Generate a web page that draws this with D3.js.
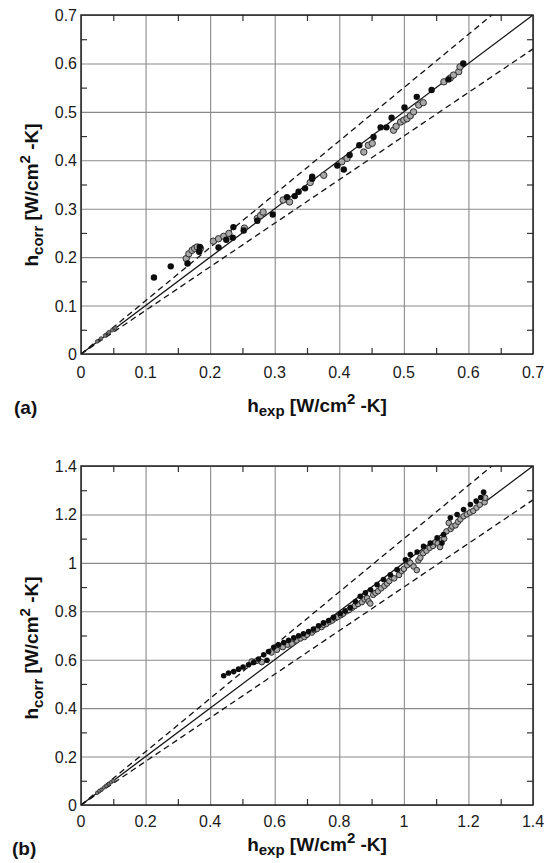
<!DOCTYPE html>
<html>
<head>
<meta charset="utf-8">
<script src="https://cdn.jsdelivr.net/npm/d3@7"></script>
<style>
  body { margin: 0; background: #fff; }
  svg { display: block; }
  text { font-family: "Liberation Sans", Arial, sans-serif; }
</style>
</head>
<body>
<svg id="Graph"></svg>
<script>
const w = 546;
const h = 863;

// panel (a) data [h_exp, h_corr]
const filledA = [
  [0.113, 0.158], [0.139, 0.181], [0.165, 0.187], [0.183, 0.211], [0.184, 0.221],
  [0.213, 0.220], [0.225, 0.236], [0.235, 0.240], [0.236, 0.262], [0.252, 0.255],
  [0.273, 0.275], [0.297, 0.288], [0.319, 0.324], [0.331, 0.326], [0.337, 0.335],
  [0.347, 0.342], [0.358, 0.362], [0.358, 0.366], [0.397, 0.389], [0.407, 0.381],
  [0.416, 0.411], [0.431, 0.431], [0.453, 0.448], [0.464, 0.468], [0.473, 0.468],
  [0.481, 0.488], [0.501, 0.509], [0.520, 0.531], [0.543, 0.545], [0.569, 0.567],
  [0.592, 0.600]
];
const openA = [
  [0.163, 0.197], [0.167, 0.207], [0.172, 0.214], [0.176, 0.218], [0.180, 0.221],
  [0.185, 0.218], [0.205, 0.233], [0.213, 0.238], [0.221, 0.243], [0.229, 0.249],
  [0.253, 0.260], [0.273, 0.280], [0.278, 0.286], [0.282, 0.293], [0.313, 0.318],
  [0.323, 0.314], [0.355, 0.354], [0.376, 0.369], [0.404, 0.397], [0.412, 0.404],
  [0.438, 0.417], [0.445, 0.431], [0.451, 0.435], [0.484, 0.462], [0.488, 0.470],
  [0.495, 0.479], [0.500, 0.483], [0.505, 0.486], [0.510, 0.492], [0.515, 0.500],
  [0.523, 0.514], [0.530, 0.519], [0.562, 0.562], [0.572, 0.570], [0.577, 0.576],
  [0.585, 0.583], [0.587, 0.593]
];
const nearA = [
  [0.025, 0.026], [0.031, 0.032], [0.037, 0.038], [0.043, 0.045], [0.048, 0.049],
  [0.053, 0.054]
];

// panel (b) data [h_exp, h_corr]
const filledB = [
  [0.442, 0.534], [0.457, 0.545], [0.473, 0.551], [0.488, 0.561], [0.502, 0.570],
  [0.519, 0.579], [0.535, 0.589], [0.550, 0.603], [0.566, 0.620], [0.576, 0.598],
  [0.581, 0.634], [0.597, 0.651], [0.612, 0.662], [0.628, 0.671], [0.643, 0.680],
  [0.659, 0.690], [0.674, 0.699], [0.689, 0.707], [0.705, 0.716], [0.720, 0.727],
  [0.736, 0.740], [0.751, 0.752], [0.767, 0.762], [0.782, 0.775], [0.803, 0.790],
  [0.818, 0.801], [0.834, 0.815], [0.850, 0.840], [0.865, 0.862], [0.881, 0.876],
  [0.897, 0.889], [0.917, 0.910], [0.937, 0.931], [0.958, 0.951], [0.979, 0.972],
  [1.005, 1.013], [1.020, 1.034], [1.041, 1.045], [1.061, 1.068], [1.082, 1.082],
  [1.103, 1.103], [1.118, 1.082], [1.123, 1.117], [1.144, 1.186], [1.165, 1.200],
  [1.185, 1.220], [1.206, 1.241], [1.224, 1.255], [1.238, 1.270], [1.247, 1.292]
];
const openB = [
  [0.529, 0.593], [0.545, 0.596], [0.560, 0.590], [0.590, 0.630], [0.607, 0.641],
  [0.625, 0.652], [0.640, 0.662], [0.653, 0.666], [0.668, 0.680], [0.680, 0.688],
  [0.692, 0.694], [0.700, 0.703], [0.715, 0.712], [0.723, 0.722], [0.731, 0.727],
  [0.745, 0.735], [0.752, 0.744], [0.760, 0.748], [0.770, 0.757], [0.778, 0.762],
  [0.787, 0.771], [0.795, 0.776], [0.805, 0.784], [0.812, 0.790], [0.822, 0.800],
  [0.830, 0.805], [0.840, 0.815], [0.848, 0.822], [0.858, 0.830], [0.870, 0.838],
  [0.878, 0.850], [0.886, 0.855], [0.891, 0.841], [0.896, 0.832], [0.905, 0.868],
  [0.912, 0.876], [0.920, 0.883], [0.930, 0.895], [0.940, 0.905], [0.948, 0.915],
  [0.955, 0.925], [0.962, 0.940], [0.970, 0.936], [0.985, 0.950], [0.993, 0.966],
  [1.000, 0.975], [1.010, 0.990], [1.015, 1.005], [1.020, 1.000], [1.030, 0.985],
  [1.040, 0.970], [1.045, 1.010], [1.051, 1.021], [1.060, 1.040], [1.070, 1.050],
  [1.080, 1.062], [1.090, 1.070], [1.098, 1.085], [1.105, 1.080], [1.112, 1.065],
  [1.118, 1.095], [1.125, 1.100], [1.132, 1.130], [1.139, 1.165], [1.145, 1.140],
  [1.150, 1.150], [1.160, 1.155], [1.168, 1.170], [1.175, 1.180], [1.185, 1.192],
  [1.195, 1.200], [1.205, 1.208], [1.215, 1.215], [1.225, 1.228], [1.235, 1.240],
  [1.250, 1.250], [1.252, 1.269]
];
const nearB = [
  [0.050, 0.050], [0.057, 0.058], [0.064, 0.064], [0.071, 0.072], [0.078, 0.079],
  [0.086, 0.087], [0.093, 0.094], [0.100, 0.100]
];

// ticks
const ticksA = [0, 0.1, 0.2, 0.3, 0.4, 0.5, 0.6, 0.7];
const minorA = [0.05, 0.15, 0.25, 0.35, 0.45, 0.55, 0.65];
const ticksB = [0, 0.2, 0.4, 0.6, 0.8, 1, 1.2, 1.4];
const minorB = [0.1, 0.3, 0.5, 0.7, 0.9, 1.1, 1.3];

// y = x and +/-10% bands
const bands = [
  { k: 1.0, dash: null },
  { k: 1.1, dash: "6,4" },
  { k: 0.9, dash: "6,4" }
];

const svg = d3.select("#Graph")
  .attr("width", w)
  .attr("height", h);

function drawPanel(p) {
  const xScale = d3.scaleLinear().domain([0, p.max]).range([p.left, p.right]);
  const yScale = d3.scaleLinear().domain([0, p.max]).range([p.bottom, p.top]);
  const pw = p.right - p.left;
  const ph = p.bottom - p.top;
  const g = svg.append("g");
  const fmt = d3.format("~g");

  // grid
  g.append("g")
    .attr("transform", "translate(0," + p.bottom + ")")
    .call(d3.axisBottom(xScale).tickValues(p.ticks).tickSize(-ph).tickFormat(""))
    .call(s => s.select(".domain").remove())
    .call(s => s.selectAll("line").attr("stroke", "#8a8a8a").attr("stroke-width", 1.1));
  g.append("g")
    .attr("transform", "translate(" + p.left + ",0)")
    .call(d3.axisLeft(yScale).tickValues(p.ticks).tickSize(-pw).tickFormat(""))
    .call(s => s.select(".domain").remove())
    .call(s => s.selectAll("line").attr("stroke", "#8a8a8a").attr("stroke-width", 1.1));

  // minor inward ticks on all sides
  const tk = 6;
  const minorG = g.append("g");
  minorG.append("g").attr("transform", "translate(0," + p.bottom + ")")
    .call(d3.axisBottom(xScale).tickValues(p.minor).tickSize(-tk).tickFormat(""));
  minorG.append("g").attr("transform", "translate(0," + p.top + ")")
    .call(d3.axisTop(xScale).tickValues(p.minor).tickSize(-tk).tickFormat(""));
  minorG.append("g").attr("transform", "translate(" + p.left + ",0)")
    .call(d3.axisLeft(yScale).tickValues(p.minor).tickSize(-tk).tickFormat(""));
  minorG.append("g").attr("transform", "translate(" + p.right + ",0)")
    .call(d3.axisRight(yScale).tickValues(p.minor).tickSize(-tk).tickFormat(""));
  minorG.selectAll(".domain").remove();
  minorG.selectAll(".tick line").attr("stroke", "#333").attr("stroke-width", 1.2);

  // tick labels
  g.selectAll(".xlab")
    .data(p.ticks)
    .enter()
    .append("text")
    .attr("x", d => xScale(d))
    .attr("y", p.bottom + p.xLabDy)
    .attr("text-anchor", "middle")
    .attr("font-size", "16px")
    .attr("fill", "#1a1a1a")
    .text(d => fmt(d));
  g.selectAll(".ylab")
    .data(p.ticks)
    .enter()
    .append("text")
    .attr("x", p.left - 4)
    .attr("y", d => yScale(d) + 6)
    .attr("text-anchor", "end")
    .attr("font-size", "16px")
    .attr("fill", "#1a1a1a")
    .text(d => fmt(d));

  // lines, clipped to the plot
  svg.append("clipPath").attr("id", "clip" + p.id)
    .append("rect")
    .attr("x", p.left).attr("y", p.top)
    .attr("width", pw).attr("height", ph);
  const lg = g.append("g").attr("clip-path", "url(#clip" + p.id + ")");
  lg.selectAll("line")
    .data(bands)
    .enter()
    .append("line")
    .attr("x1", xScale(0))
    .attr("y1", yScale(0))
    .attr("x2", xScale(p.max))
    .attr("y2", d => yScale(p.max * d.k))
    .attr("stroke", "#111")
    .attr("stroke-width", 1.3)
    .attr("stroke-dasharray", d => d.dash);

  // points
  lg.selectAll(".near")
    .data(p.near)
    .enter()
    .append("circle")
    .attr("cx", d => xScale(d[0]))
    .attr("cy", d => yScale(d[1]))
    .attr("r", 1.8)
    .attr("fill", "#777")
    .attr("stroke", "#333")
    .attr("stroke-width", 0.8);
  lg.selectAll(".open")
    .data(p.open)
    .enter()
    .append("circle")
    .attr("cx", d => xScale(d[0]))
    .attr("cy", d => yScale(d[1]))
    .attr("r", p.r)
    .attr("fill", "#a8a8a8")
    .attr("stroke", "#2e2e2e")
    .attr("stroke-width", 1);
  lg.selectAll(".filled")
    .data(p.filled)
    .enter()
    .append("circle")
    .attr("cx", d => xScale(d[0]))
    .attr("cy", d => yScale(d[1]))
    .attr("r", p.r)
    .attr("fill", "#0d0d0d");

  // frame
  g.append("rect")
    .attr("x", p.left).attr("y", p.top)
    .attr("width", pw).attr("height", ph)
    .attr("fill", "none")
    .attr("stroke", "#222")
    .attr("stroke-width", 1.5);

  // axis titles
  const xt = g.append("text")
    .attr("x", (p.left + p.right) / 2 + 10)
    .attr("y", p.xTitleY)
    .attr("text-anchor", "middle")
    .attr("font-size", "19px")
    .attr("font-weight", "bold")
    .attr("fill", "#111");
  xt.append("tspan").text("h");
  xt.append("tspan").text("exp").attr("font-size", "15px").attr("dy", 4);
  xt.append("tspan").text(" [W/cm").attr("dy", -4);
  xt.append("tspan").text("2").attr("font-size", "15px").attr("dy", -8);
  xt.append("tspan").text(" -K]").attr("dy", 8);

  const yt = g.append("text")
    .attr("transform", "translate(38," + p.yTitleC + ") rotate(-90)")
    .attr("text-anchor", "middle")
    .attr("font-size", "19px")
    .attr("font-weight", "bold")
    .attr("fill", "#111");
  yt.append("tspan").text("h");
  yt.append("tspan").text("corr").attr("font-size", "15px").attr("dy", 5);
  yt.append("tspan").text(" [W/cm").attr("dy", -5);
  yt.append("tspan").text("2").attr("font-size", "15px").attr("dy", -8);
  yt.append("tspan").text(" -K]").attr("dy", 8);

  // panel letter
  g.append("text")
    .attr("x", p.letterX)
    .attr("y", p.letterY)
    .attr("font-size", "19px")
    .attr("font-weight", "bold")
    .attr("fill", "#111")
    .text(p.letter);
}

drawPanel({
  id: "a", max: 0.7, left: 81, right: 533, top: 15, bottom: 354,
  ticks: ticksA, minor: minorA, filled: filledA, open: openA, near: nearA, r: 3.2,
  xLabDy: 24, xTitleY: 412, yTitleC: 195, letter: "(a)", letterX: 14, letterY: 414
});
drawPanel({
  id: "b", max: 1.4, left: 81, right: 533, top: 466, bottom: 805,
  ticks: ticksB, minor: minorB, filled: filledB, open: openB, near: nearB, r: 2.8,
  xLabDy: 22, xTitleY: 851, yTitleC: 648, letter: "(b)", letterX: 12, letterY: 855
});
</script>
</body>
</html>
